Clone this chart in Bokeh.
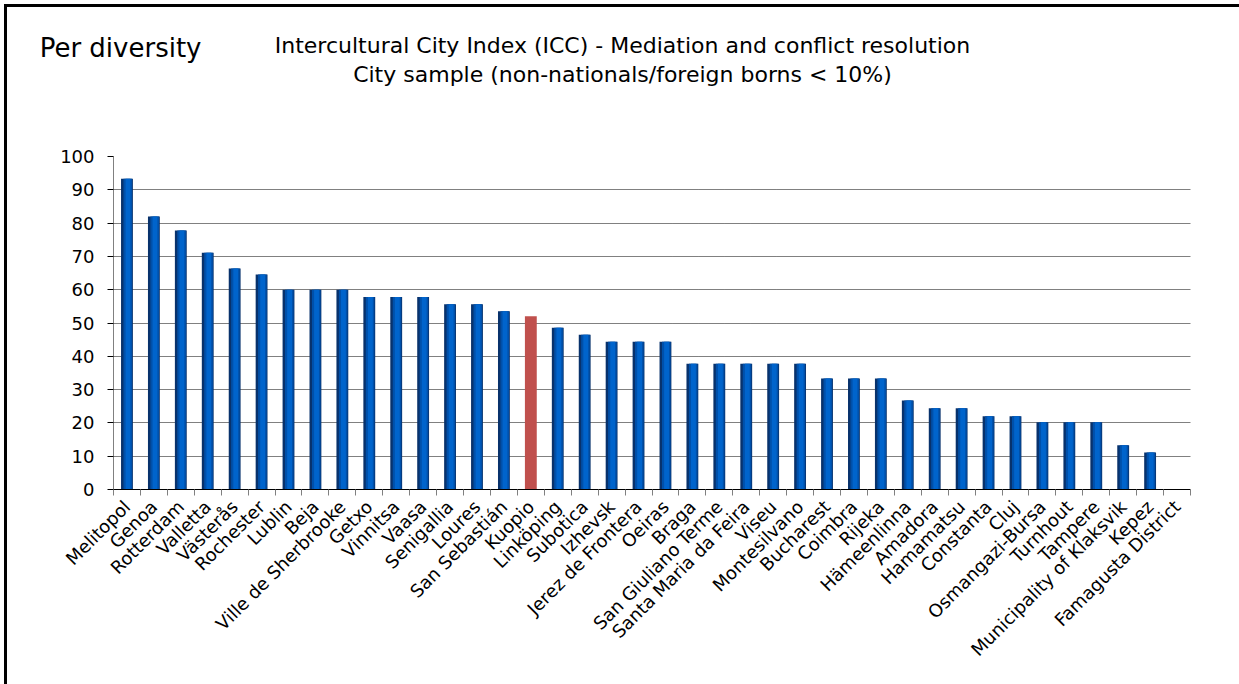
from math import pi

from bokeh.core.properties import value
from bokeh.embed import file_html
from bokeh.layouts import column
from bokeh.models import ColumnDataSource, FixedTicker, Range1d
from bokeh.plotting import figure
from bokeh.resources import INLINE
from bokeh.transform import dodge

# ICC "Mediation and conflict resolution" scores, cities with < 10% non-nationals
cities = [
    "Melitopol", "Genoa", "Rotterdam", "Valletta", "Västerås", "Rochester",
    "Lublin", "Beja", "Ville de Sherbrooke", "Getxo", "Vinnitsa", "Vaasa",
    "Senigallia", "Loures", "San Sebastián", "Kuopio", "Linköping",
    "Subotica", "Izhevsk", "Jerez de Frontera", "Oeiras", "Braga",
    "San Giuliano Terme", "Santa Maria da Feira", "Viseu", "Montesilvano",
    "Bucharest", "Coimbra", "Rijeka", "Hämeenlinna", "Amadora", "Hamamatsu",
    "Constanta", "Cluj", "Osmangazi-Bursa", "Turnhout", "Tampere",
    "Municipality of Klaksvik", "Kepez", "Famagusta District",
]
scores = [
    93.3, 82.0, 77.8, 71.1, 66.4, 64.6,
    60.0, 60.0, 60.0, 57.8, 57.8, 57.8,
    55.6, 55.6, 53.5, 52.0, 48.6,
    46.5, 44.4, 44.4, 44.4, 37.8,
    37.8, 37.8, 37.8, 37.8,
    33.3, 33.3, 33.3, 26.7, 24.4, 24.4,
    22.0, 22.0, 20.2, 20.2, 20.2,
    13.3, 11.1, 0.0,
]
highlight = "Kuopio"
y_ticks = list(range(0, 101, 10))

heading = "Per diversity"
title_lines = [
    "Intercultural City Index (ICC) - Mediation and conflict resolution",
    "City sample (non-nationals/foreign borns < 10%)",
]

FONT = "DejaVu Sans"
WIDTH = 1232
HEADER_H = 120
LEFT, RIGHT = 106, 49  # plot borders shared by both rows

# ---- heading strip: its frame lines up with the chart frame below,
# so the x range is expressed in canvas pixels of that frame ----
header = figure(
    width=WIDTH, height=HEADER_H,
    x_range=Range1d(LEFT, WIDTH - RIGHT), y_range=Range1d(HEADER_H, 0),
    x_axis_type=None,
    output_backend="svg", toolbar_location=None,
    min_border_left=LEFT, min_border_right=RIGHT,
    min_border_top=0, min_border_bottom=0,
)
header.outline_line_color = None
header.grid.grid_line_color = None
header.background_fill_color = "white"
header.border_fill_color = "white"

# the left-hand heading sits in the border area, drawn as the strip's only y label
heading_row = 40
header.yaxis.ticker = FixedTicker(ticks=[heading_row])
header.yaxis.major_label_overrides = {heading_row: heading}
header.yaxis.axis_line_color = None
header.yaxis.major_tick_line_color = None
header.yaxis.minor_tick_line_color = None
header.yaxis.major_tick_in = 0
header.yaxis.major_tick_out = 0
header.yaxis.major_label_standoff = -88
header.yaxis.major_label_text_font = FONT
header.yaxis.major_label_text_font_size = "26px"
header.yaxis.major_label_text_color = "#000000"

header.text(
    x=[615, 615], y=[38.3, 67.0], text=title_lines,
    text_font=value(FONT), text_font_size="22px", text_color="#000000",
    text_align="center", text_baseline="alphabetic",
)

# ---- bar chart ----
centers = [i + 0.5 for i in range(len(cities))]
bounds = list(range(len(cities) + 1))

blue = ColumnDataSource(dict(
    x=[c for c, name in zip(centers, cities) if name != highlight],
    top=[s for s, name in zip(scores, cities) if name != highlight],
))
red = ColumnDataSource(dict(
    x=[c for c, name in zip(centers, cities) if name == highlight],
    top=[s for s, name in zip(scores, cities) if name == highlight],
))

p = figure(
    width=WIDTH, height=677 - HEADER_H,
    x_range=Range1d(0, len(cities)), y_range=Range1d(0, 100),
    output_backend="svg", toolbar_location=None,
    min_border_left=LEFT, min_border_right=RIGHT,
    min_border_top=29, min_border_bottom=195,
)
p.outline_line_color = None
p.background_fill_color = "white"
p.border_fill_color = "white"

# shaded blue columns: dark base with lighter cores
p.vbar(x="x", top="top", width=0.44, source=blue, fill_color="#08326c", line_color=None)
p.vbar(x=dodge("x", 0.03), top="top", width=0.32, source=blue, fill_color="#0050aa", line_color=None)
p.vbar(x=dodge("x", 0.04), top="top", width=0.18, source=blue, fill_color="#0064cc", line_color=None)
p.vbar(x="x", top="top", width=0.44, source=red, fill_color="#c0504d", line_color=None)

# y axis and dotted grid
p.yaxis.ticker = FixedTicker(ticks=y_ticks)
p.yaxis.axis_line_color = "#808080"
p.yaxis.major_tick_in = 0
p.yaxis.major_tick_out = 6
p.yaxis.major_tick_line_color = "#000000"
p.yaxis.minor_tick_line_color = None
p.yaxis.major_label_text_font = FONT
p.yaxis.major_label_text_font_size = "18px"
p.yaxis.major_label_text_color = "#000000"
p.yaxis.major_label_standoff = 13

p.ygrid.ticker = FixedTicker(ticks=y_ticks)
p.ygrid.grid_line_color = "#000000"
p.ygrid.grid_line_dash = "1 1"
p.ygrid.grid_line_alpha = 1.0
p.xgrid.grid_line_color = None

# x axis: names at column centres, tick marks between columns
p.xaxis.ticker = FixedTicker(ticks=centers, minor_ticks=bounds)
p.xaxis.major_label_overrides = {c: name for c, name in zip(centers, cities)}
p.xaxis.major_tick_line_color = None
p.xaxis.minor_tick_in = 0
p.xaxis.minor_tick_out = 6
p.xaxis.minor_tick_line_color = "#808080"
p.xaxis.axis_line_color = "#000000"
p.xaxis.major_label_orientation = pi / 4
p.xaxis.major_label_standoff = 8
p.xaxis.major_label_text_font = FONT
p.xaxis.major_label_text_font_size = "18px"
p.xaxis.major_label_text_color = "#000000"

page = column(header, p, spacing=0)
# page frame: a black rule along the left and top edges
page.styles = {
    "margin-left": "4px", "margin-top": "4px",
    "border-left": "3px solid #000000", "border-top": "3px solid #000000",
}

with open("out.html", "w") as f:
    f.write(file_html(page, INLINE))
